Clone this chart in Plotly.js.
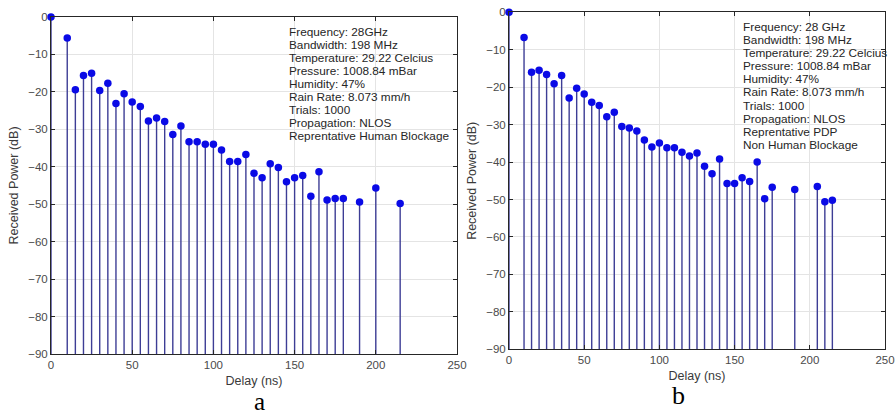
<!DOCTYPE html>
<html><head><meta charset="utf-8">
<script src="https://cdn.plot.ly/plotly-3.0.1.min.js"></script>
<style>html,body{margin:0;padding:0;background:#fff}#chart{width:895px;height:416px}</style>
</head><body><div id="chart"></div>
<script>
// Panel a: Human Blockage
var delayA = [0,10,15,20,25,30,35,40,45,50,55,60,65,70,75,80,85,90,95,100,105,110,115,120,125,130,135,140,145,150,155,160,165,170,175,180,190,200,215];
var powerA = [0,-5.6,-19.4,-15.6,-15.0,-19.6,-17.7,-23.1,-20.5,-22.7,-23.9,-27.8,-27.0,-27.9,-31.4,-29.1,-33.3,-33.3,-34.0,-34.0,-35.5,-38.6,-38.6,-36.7,-41.7,-42.9,-39.2,-40.2,-44.0,-42.9,-42.3,-47.9,-41.3,-48.9,-48.5,-48.5,-49.4,-45.7,-49.8];
// Panel b: Non Human Blockage
var delayB = [0,10,15,20,25,30,35,40,45,50,55,60,65,70,75,80,85,90,95,100,105,110,115,120,125,130,135,140,145,150,155,160,165,170,175,190,205,210,215];
var powerB = [0,-6.7,-16.0,-15.5,-16.6,-19.1,-16.9,-22.9,-20.3,-21.8,-24.0,-24.9,-27.9,-26.7,-30.5,-30.9,-31.7,-34.1,-36.0,-34.9,-36.2,-36.2,-37.4,-38.4,-37.6,-41.1,-43.1,-39.2,-45.7,-45.7,-44.2,-45.2,-40.0,-49.8,-46.7,-47.3,-46.5,-50.6,-50.2];
var baseValue = -90;
var infoA = ["Frequency: 28GHz","Bandwidth: 198 MHz","Temperature: 29.22 Celcius","Pressure: 1008.84 mBar","Humidity: 47%","Rain Rate: 8.073 mm/h","Trials: 1000","Propagation: NLOS","Reprentative Human Blockage"];
var infoB = ["Frequency: 28 GHz","Bandwidth: 198 MHz","Temperature: 29.22 Celcius","Pressure: 1008.84 mBar","Humidity: 47%","Rain Rate: 8.073 mm/h","Trials: 1000","Propagation: NLOS","Reprentative PDP","Non Human Blockage"];
var xTitle = "Delay (ns)", yTitle = "Received Power (dB)";

var W = 895, H = 416;
function px(x){return x/W;} function py(y){return (H-y)/H;}

function stemTrace(xs, ys, xa, ya){
  return {
    type:'scatter', mode:'markers', x:xs, y:ys, xaxis:xa, yaxis:ya,
    cliponaxis:false, hoverinfo:'skip',
    marker:{color:'#0a0ae6', size:7.5, line:{width:0}},
    error_y:{type:'data', symmetric:false,
      array: ys.map(function(){return 0;}),
      arrayminus: ys.map(function(v){return v-baseValue;}),
      color:'#3d3d95', thickness:1.4, width:0}
  };
}

var font = 'Liberation Sans, Arial, sans-serif';
function xax(dom){
  return {domain:dom, range:[0,250], dtick:50, tick0:0, ticks:'inside', ticklen:4, tickcolor:'#262626',
    showline:true, mirror:'ticks', linecolor:'#262626', linewidth:1, showgrid:true, gridcolor:'#e4e4e4',
    zeroline:false, tickfont:{family:font,size:11.5,color:'#4a4a4a'},
    title:{text:xTitle, font:{family:font,size:12.5,color:'#3a3a3a'}, standoff:6}, fixedrange:true};
}
function yax(dom, anchor){
  return {domain:dom, anchor:anchor, range:[-90,0], dtick:10, tick0:0, ticks:'inside', ticklen:4, tickcolor:'#262626',
    showline:true, mirror:'ticks', linecolor:'#262626', linewidth:1, showgrid:true, gridcolor:'#e4e4e4',
    zeroline:false, tickfont:{family:font,size:11.5,color:'#4a4a4a'},
    title:{text:yTitle, font:{family:font,size:12.5,color:'#3a3a3a'}, standoff:6}, fixedrange:true};
}

var ann = [];
infoA.forEach(function(t,i){
  ann.push({text:t, xref:'paper', yref:'paper', x:px(288), y:py(31.7+i*13.04), xanchor:'left', yanchor:'middle',
    showarrow:false, font:{family:font,size:11.8,color:'#262626'}, borderpad:0});
});
infoB.forEach(function(t,i){
  ann.push({text:t, xref:'paper', yref:'paper', x:px(742), y:py(26.7+i*13.15), xanchor:'left', yanchor:'middle',
    showarrow:false, font:{family:font,size:11.8,color:'#262626'}, borderpad:0});
});
ann.push({text:'a', xref:'paper', yref:'paper', x:px(259), y:py(401), xanchor:'center', yanchor:'middle',
  showarrow:false, font:{family:'Liberation Serif, Times New Roman, serif', size:25, color:'#000'}, borderpad:0});
ann.push({text:'b', xref:'paper', yref:'paper', x:px(678), y:py(395), xanchor:'center', yanchor:'middle',
  showarrow:false, font:{family:'Liberation Serif, Times New Roman, serif', size:26, color:'#000'}, borderpad:0});

var layout = {
  width:W, height:H, margin:{l:0,r:0,t:0,b:0}, paper_bgcolor:'#fff', plot_bgcolor:'#fff',
  showlegend:false,
  xaxis: xax([px(51), px(457)]),
  yaxis: yax([py(354), py(17)], 'x'),
  xaxis2: Object.assign(xax([px(509), px(885)]), {anchor:'y2'}),
  yaxis2: yax([py(349.3), py(12.3)], 'x2'),
  annotations: ann
};
layout.xaxis.anchor = 'y';

Plotly.newPlot('chart', [stemTrace(delayA, powerA, 'x', 'y'), stemTrace(delayB, powerB, 'x2', 'y2')], layout, {staticPlot:true});
</script></body></html>
